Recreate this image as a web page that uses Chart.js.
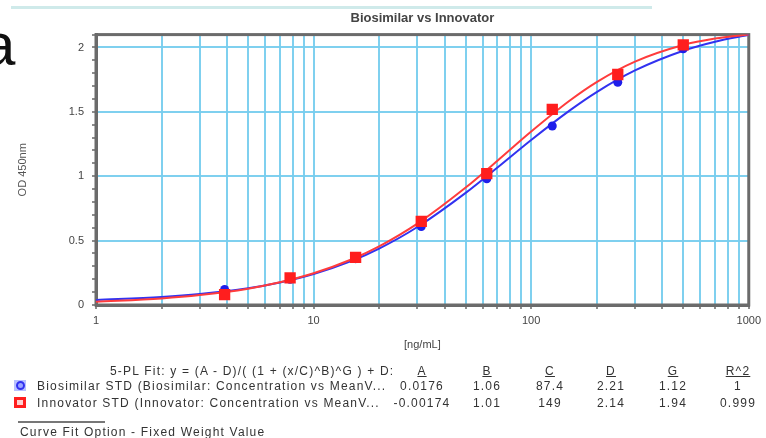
<!DOCTYPE html>
<html>
<head>
<meta charset="utf-8">
<script src="https://cdn.jsdelivr.net/npm/chart.js@4"></script>
<style>
  body { margin: 0; background: #fff; }
  #wrap { position: relative; width: 766px; height: 438px; overflow: hidden; font-family: 'Liberation Sans', Arial, sans-serif; }
  #curve-chart { position: absolute; left: 0; top: 0; }
  .txt { position: absolute; font-size: 12px; line-height: 14px; color: #333; letter-spacing: 1.2px; white-space: nowrap; }
  .ctr { transform: translateX(-50%); }
  .hdr { text-decoration: underline; }
</style>
</head>
<body>
<div id="wrap">
  <canvas id="curve-chart" width="766" height="438"></canvas>
  <div style="position:absolute;left:11px;top:6px;width:641px;height:3px;background:#cfeaea;"></div>
  <div style="position:absolute;left:-18px;top:15px;font-family:'Liberation Sans',Arial,sans-serif;font-size:60px;line-height:60px;color:#111;">a</div>
  <div id="fit-table"></div>
</div>
<script>
// Measured points (concentration in ng/mL vs OD)
const concentrations = [3.9, 7.8, 15.6, 31.25, 62.5, 125, 250, 500];
const biosimilarOD = [0.12, 0.20, 0.36, 0.61, 0.98, 1.39, 1.73, 1.99];
const innovatorOD = [0.08, 0.21, 0.37, 0.65, 1.02, 1.52, 1.79, 2.02];

// Fitted curves
const fitX = [1, 2, 3, 5, 7, 10, 15, 20, 30, 50, 70, 100, 150, 200, 300, 500, 700, 1000];
const biosimilarFit = [0.039, 0.062, 0.085, 0.130, 0.175, 0.241, 0.343, 0.438, 0.606, 0.871, 1.068, 1.282, 1.510, 1.654, 1.822, 1.975, 2.045, 2.098];
const innovatorFit = [0.025, 0.051, 0.077, 0.127, 0.176, 0.246, 0.355, 0.455, 0.632, 0.912, 1.121, 1.347, 1.586, 1.731, 1.890, 2.019, 2.069, 2.101];

// Axis ticks
const xGridValues = [1, 2, 3, 4, 5, 6, 7, 8, 9, 10, 20, 30, 40, 50, 60, 70, 80, 90,
  100, 200, 300, 400, 500, 600, 700, 800, 900, 1000];
const xTickLabels = ['1', '10', '100', '1000'];
const yTickLabels = ['0', '0.5', '1', '1.5', '2'];

// Fit table
const paramNames = ['A', 'B', 'C', 'D', 'G', 'R^2'];
const biosimilarParams = ['0.0176', '1.06', '87.4', '2.21', '1.12', '1'];
const innovatorParams = ['-0.00174', '1.01', '149', '2.14', '1.94', '0.999'];
const seriesLabels = [
  'Biosimilar STD (Biosimilar: Concentration vs MeanV...',
  'Innovator STD (Innovator: Concentration vs MeanV...'
];

const gridBlue = 'rgba(120, 206, 238, 0.95)';
const red = 'rgb(255, 30, 30)';
const blue = 'rgb(30, 30, 235)';

function toPoints(xs, ys) {
  return xs.map((x, i) => ({ x: x, y: ys[i] }));
}

function yLabel(v) {
  const s = String(Math.round(v * 10) / 10);
  return yTickLabels.includes(s) ? s : '';
}

// draws top and right edges of the plot frame
const framePlugin = {
  id: 'frame',
  beforeDatasetsDraw(chart) {
    const a = chart.chartArea;
    const ctx = chart.ctx;
    ctx.save();
    ctx.strokeStyle = '#6b6b6b';
    ctx.lineWidth = 3;
    ctx.strokeRect(a.left, a.top, a.right - a.left, a.bottom - a.top);
    ctx.restore();
  }
};

function drawChart() {
  Chart.defaults.font.family = "'Liberation Sans', Arial, sans-serif";
  const ctx = document.getElementById('curve-chart').getContext('2d');
  new Chart(ctx, {
    type: 'scatter',
    data: {
      datasets: [
        { data: toPoints(concentrations, innovatorOD), pointStyle: 'rect', pointRadius: 8,
          backgroundColor: red, borderColor: red, borderWidth: 0, showLine: false },
        { data: toPoints(fitX, innovatorFit), showLine: true, pointRadius: 0,
          borderColor: 'rgb(255, 60, 60)', borderWidth: 2, cubicInterpolationMode: 'monotone' },
        { data: toPoints(concentrations, biosimilarOD), pointStyle: 'circle', pointRadius: 4.5,
          backgroundColor: blue, borderColor: blue, borderWidth: 0, showLine: false },
        { data: toPoints(fitX, biosimilarFit), showLine: true, pointRadius: 0,
          borderColor: 'rgb(50, 50, 240)', borderWidth: 2, cubicInterpolationMode: 'monotone' }
      ]
    },
    options: {
      responsive: false,
      animation: false,
      layout: { padding: { left: 0, right: 12, top: 0, bottom: 83 } },
      plugins: {
        legend: { display: false },
        tooltip: { enabled: false },
        title: {
          display: true,
          text: 'Biosimilar vs Innovator',
          fullSize: false,
          color: '#444',
          font: { size: 13, weight: 'bold' },
          padding: { top: 11, bottom: 8 }
        }
      },
      scales: {
        x: {
          type: 'logarithmic',
          min: 1,
          max: 1000,
          afterFit(scale) { scale.height = 50; },
          afterBuildTicks(scale) { scale.ticks = xGridValues.map(v => ({ value: v })); },
          ticks: {
            autoSkip: false,
            maxRotation: 0,
            padding: 5,
            color: '#444',
            font: { size: 11 },
            callback(v) { return xTickLabels.includes(String(v)) ? String(v) : ''; }
          },
          grid: { color: gridBlue, lineWidth: 2, tickColor: '#666', tickLength: 4, tickWidth: 1.5 },
          border: { color: '#6b6b6b', width: 3 },
          title: { display: true, text: '[ng/mL]', color: '#444', font: { size: 11 }, padding: { top: 0, bottom: 3 } }
        },
        y: {
          min: 0,
          max: 2.1,
          afterFit(scale) { scale.width = 96; },
          ticks: {
            stepSize: 0.1,
            autoSkip: false,
            padding: 8,
            color: '#444',
            font: { size: 11 },
            callback: yLabel
          },
          grid: {
            color(c) { return c.tick && yLabel(c.tick.value) !== '' ? gridBlue : 'rgba(0,0,0,0)'; },
            lineWidth: 2,
            tickColor: '#666',
            tickLength: 4,
            tickWidth: 1.5
          },
          border: { color: '#6b6b6b', width: 3 },
          title: { display: true, text: 'OD 450nm', color: '#555', font: { size: 11 }, padding: { top: 16, bottom: 0 } }
        }
      }
    },
    plugins: [framePlugin]
  });
}

function addText(parent, text, left, top, cls) {
  const el = document.createElement('div');
  el.className = 'txt' + (cls ? ' ' + cls : '');
  el.textContent = text;
  el.style.left = left + 'px';
  el.style.top = top + 'px';
  parent.appendChild(el);
  return el;
}

function buildTable() {
  const t = document.getElementById('fit-table');
  const colX = [422, 487, 550, 611, 673, 738];
  addText(t, '5-PL Fit: y = (A - D)/( (1 + (x/C)^B)^G ) + D:', 110, 364);
  paramNames.forEach((n, i) => addText(t, n, colX[i], 364, 'ctr hdr'));

  const rows = [biosimilarParams, innovatorParams];
  const rowTop = [379, 396];
  rows.forEach((vals, r) => {
    addText(t, seriesLabels[r], 37, rowTop[r]);
    vals.forEach((v, i) => addText(t, v, colX[i], rowTop[r], 'ctr'));
  });

  // marker icons
  const icon1 = document.createElement('div');
  icon1.style.cssText = 'position:absolute;left:14px;top:380px;width:12px;height:11px;background:#b8c0ff;';
  icon1.innerHTML = '<div style="position:absolute;left:2px;top:1px;width:5px;height:5px;border:2px solid #3030f0;border-radius:50%;background:#9aa4ff;"></div>';
  t.appendChild(icon1);
  const icon2 = document.createElement('div');
  icon2.style.cssText = 'position:absolute;left:14px;top:397px;width:12px;height:11px;background:#ff1e1e;';
  icon2.innerHTML = '<div style="position:absolute;left:3px;top:3px;width:6px;height:5px;background:#ffd0d0;"></div>';
  t.appendChild(icon2);

  const line = document.createElement('div');
  line.style.cssText = 'position:absolute;left:18px;top:421px;width:87px;height:2px;background:#777;';
  t.appendChild(line);
  addText(t, 'Curve Fit Option - Fixed Weight Value', 20, 425);
}

drawChart();
buildTable();
</script>
</body>
</html>
